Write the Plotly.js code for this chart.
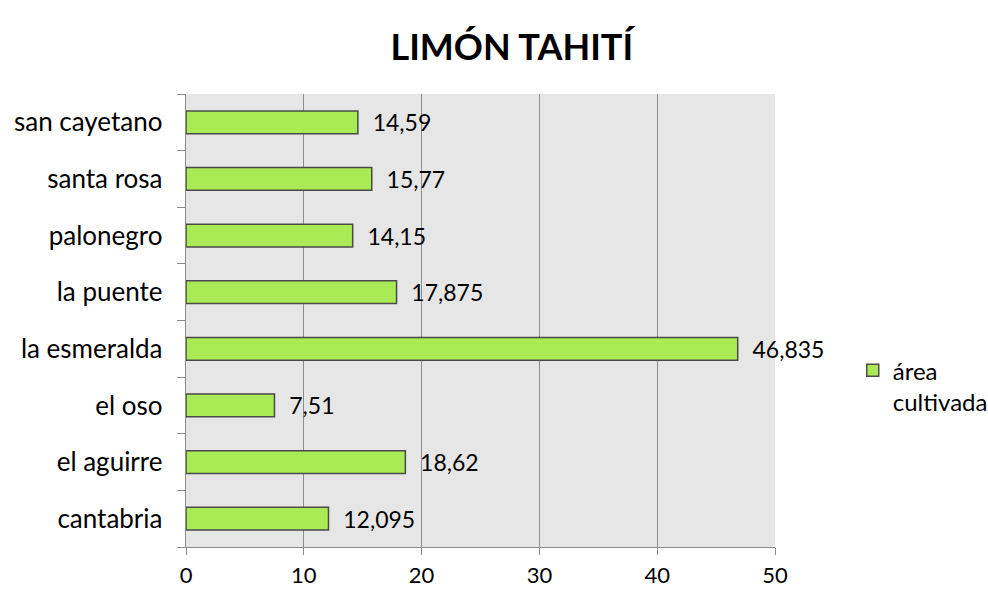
<!DOCTYPE html>
<html><head><meta charset="utf-8">
<script src="https://cdn.plot.ly/plotly-3.0.1.min.js"></script>
<style>body{margin:0;background:#fff}#c{width:988px;height:590px}</style>
</head><body><div id="c"></div>
<script>
const categories = ["cantabria","el aguirre","el oso","la esmeralda","la puente","palonegro","santa rosa","san cayetano"];
const values = [12.095, 18.62, 7.51, 46.835, 17.875, 14.15, 15.77, 14.59];
const labels = ["12,095","18,62","7,51","46,835","17,875","14,15","15,77","14,59"];
const seriesName = "área<br>cultivada";
const xTicks = [0,10,20,30,40,50];

const font = "Lato, Open Sans, sans-serif";
Plotly.newPlot('c', [{
  type:'bar', orientation:'h', y:categories, x:values, name:seriesName,
  text: labels.map(s => '  ' + s), textposition:'outside', cliponaxis:false, constraintext:'none',
  textfont:{size:23, color:'#000', family:font},
  marker:{color:'#a9ea55', line:{color:'#4a4a4a', width:1.5}},
  width:0.4, hoverinfo:'none'
}], {
  width:988, height:590,
  margin:{l:186, r:213, t:94, b:43, autoexpand:false},
  paper_bgcolor:'#fff', plot_bgcolor:'#e6e6e6',
  title:{text:'<b>LIMÓN TAHITÍ</b>', font:{size:36, family:font, color:'#000'}, x:0.518, xanchor:'center', y:0.92, yref:'container', yanchor:'middle'},
  xaxis:{range:[0,50], tickvals:xTicks, ticktext:xTicks.map(String), showgrid:true, gridcolor:'#8c8c8c', gridwidth:1.3,
    zeroline:false, showline:true, linecolor:'#8c8c8c', linewidth:1.3, ticks:'outside', ticklen:7, tickcolor:'#8c8c8c',
    tickfont:{size:22, family:font, color:'#000'}, ticklabelstandoff:1, fixedrange:true},
  yaxis:{type:'category', range:[-0.5,7.5], showgrid:false, zeroline:false, showline:true, linecolor:'#8c8c8c', linewidth:1.3,
    ticks:'outside', tickson:'boundaries', ticklen:8, tickcolor:'#8c8c8c', tickfont:{size:26, family:font, color:'#000'}, ticklabelstandoff:17, fixedrange:true},
  showlegend:true,
  legend:{x:1.132, xanchor:'left', y:0.355, yanchor:'middle', valign:'top', font:{size:24, family:font, color:'#000'}, bgcolor:'rgba(0,0,0,0)', itemwidth:30},
  bargap:0.6
}, {displayModeBar:false, staticPlot:true});
</script></body></html>
